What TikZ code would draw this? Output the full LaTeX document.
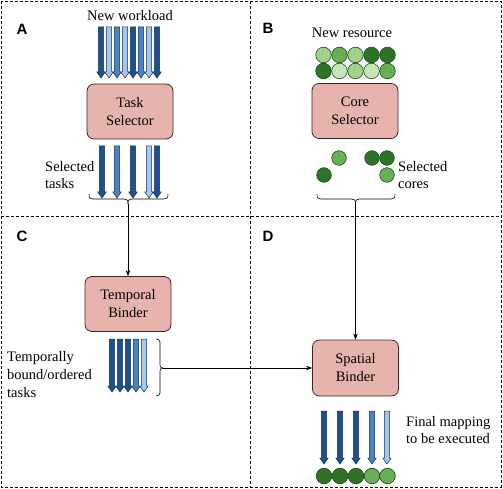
\documentclass[tikz,border=0pt]{standalone}
\usepackage{fontspec}
\setmainfont{Liberation Serif}
\newfontfamily\labfont{Liberation Sans}
\usetikzlibrary{arrows.meta}
\definecolor{boxfill}{RGB}{230,180,172}
\definecolor{boxedge}{RGB}{70,35,35}
\definecolor{bdark}{RGB}{30,82,140}
\definecolor{bmed}{RGB}{72,132,192}
\definecolor{blight}{RGB}{165,200,235}
\definecolor{arredge}{RGB}{20,45,90}
\definecolor{gdark}{RGB}{45,115,40}
\definecolor{gmed}{RGB}{105,175,85}
\definecolor{glight}{RGB}{160,210,140}
\definecolor{glighter}{RGB}{195,230,180}
\definecolor{coreedge}{RGB}{25,70,25}
\tikzset{
  box/.style={draw=boxedge, fill=boxfill, rounded corners=7pt, minimum width=86pt, minimum height=55pt, inner sep=0pt, align=center, font=\fontsize{14.5}{18}\selectfont, line width=0.8pt},
  lbl/.style={font=\fontsize{14.5}{17}\selectfont, align=left, inner sep=0pt},
  panel/.style={font=\labfont\bfseries\fontsize{15}{15}\selectfont, inner sep=0pt},
  dashline/.style={dash pattern=on 3pt off 2pt, line width=0.6pt},
  coresty/.style={draw=coreedge, line width=0.6pt},
  conn/.style={-{Stealth[length=6pt,width=4.5pt]}, line width=0.6pt},
  brace/.style={line width=0.6pt},
}
\newcommand\tarrow[4]{\draw[fill=#4, draw=arredge, line width=0.5pt, line join=miter] (#1-2.6,#2) -- (#1+2.6,#2) -- (#1+2.6,#3-6) -- (#1+4.2,#3-6) -- (#1,#3) -- (#1-4.2,#3-6) -- (#1-2.6,#3-6) -- cycle;}
\newcommand\corec[4]{\draw[coresty, fill=#4] (#1,#2) circle (#3pt);}
\begin{document}
\begin{tikzpicture}[x=1pt,y=-1pt]
\useasboundingbox (0,0) rectangle (503,489);
% panels
\draw[dashline] (1,1) rectangle (501,487);
\draw[dashline] (250,1) -- (250,487);
\draw[dashline] (1,216) -- (501,216);
\node[panel] (pA) at (22,29) {A};
\node[panel] (pB) at (268,28) {B};
\node[panel] (pC) at (22,236) {C};
\node[panel] (pD) at (268,236) {D};
% Panel A
\node[lbl] (nw) at (130,16) {New workload};
\tarrow{101}{27}{78}{bdark}
\tarrow{109}{27}{78}{blight}
\tarrow{117}{27}{78}{bmed}
\tarrow{125}{27}{78}{blight}
\tarrow{133}{27}{78}{bdark}
\tarrow{141}{27}{78}{bmed}
\tarrow{149}{27}{78}{blight}
\tarrow{157}{27}{78}{bdark}
\node[box] (ts) at (130,111.5) {Task\\Selector};
\tarrow{102}{146}{198}{bdark}
\tarrow{117}{146}{198}{bmed}
\tarrow{133}{146}{198}{bdark}
\tarrow{149}{146}{198}{blight}
\tarrow{157}{146}{198}{bdark}
\node[lbl, anchor=west] (st) at (45,175) {Selected\\tasks};
\coordinate (ba) at (128,204);
\draw[brace] (89,194) .. controls (89,198) and (90,199) .. (93,199) -- (124,199) .. controls (127,199) and (128,200) .. (ba);
\draw[brace] (168,194) .. controls (168,198) and (167,199) .. (164,199) -- (132,199) .. controls (129,199) and (128,200) .. (ba);
% Panel B
\node[lbl] (nr) at (352,33) {New resource};
\corec{323.5}{55}{7.8}{glight}
\corec{339.5}{55}{7.8}{gmed}
\corec{355.5}{55}{7.8}{glight}
\corec{371.5}{55}{7.8}{gdark}
\corec{387.5}{55}{7.8}{gdark}
\corec{323.5}{71}{7.8}{gdark}
\corec{339.5}{71}{7.8}{glighter}
\corec{355.5}{71}{7.8}{glight}
\corec{371.5}{71}{7.8}{glighter}
\corec{387.5}{71}{7.8}{gmed}
\node[box] (cs) at (355,111) {Core\\Selector};
\corec{339}{158}{7.3}{gmed}
\corec{324}{175}{7.3}{gdark}
\corec{372}{158}{7.3}{gdark}
\corec{387}{158}{7.3}{gdark}
\corec{387}{175}{7.3}{gmed}
\node[lbl, anchor=west] (sc) at (398,175) {Selected\\cores};
\coordinate (bb) at (355.5,204);
\draw[brace] (317,194) .. controls (317,198) and (318,199) .. (321,199) -- (351.5,199) .. controls (354.5,199) and (355.5,200) .. (bb);
\draw[brace] (395,194) .. controls (395,198) and (394,199) .. (391,199) -- (359.5,199) .. controls (356.5,199) and (355.5,200) .. (bb);
% Panel C
\node[box] (tb) at (128,304) {Temporal\\Binder};
\draw[conn] (ba) -- (tb.north);
\tarrow{112}{339}{392}{bdark}
\tarrow{120}{339}{392}{bdark}
\tarrow{128}{339}{392}{bdark}
\tarrow{136}{339}{392}{bmed}
\tarrow{144}{339}{392}{blight}
\node[lbl, anchor=west, font=\fontsize{14.5}{18}\selectfont] (tt) at (7,375) {Temporally\\bound/ordered\\tasks};
\coordinate (bc) at (163,368);
\draw[brace] (156,339) .. controls (158,339) and (160,340) .. (160,342) -- (160,365) .. controls (160,367) and (161,368) .. (bc);
\draw[brace] (156,396) .. controls (158,396) and (160,395) .. (160,393) -- (160,371) .. controls (160,369) and (161,368) .. (bc);
% Panel D
\node[box, minimum height=56pt] (sb) at (355.5,368) {Spatial\\Binder};
\draw[conn] (bb) -- (sb.north);
\draw[conn] (bc) -- (sb.west);
\tarrow{324}{411}{464}{bdark}
\tarrow{340}{411}{464}{bdark}
\tarrow{356}{411}{464}{bdark}
\tarrow{372}{411}{464}{bmed}
\tarrow{387}{411}{464}{blight}
\corec{324}{476}{7.8}{gdark}
\corec{340}{476}{7.8}{gdark}
\corec{356}{476}{7.8}{gdark}
\corec{372}{476}{7.8}{gmed}
\corec{387.5}{476}{7.8}{gmed}
\node[lbl, anchor=west, font=\fontsize{14.5}{16.5}\selectfont] (fm) at (406,430) {Final mapping\\to be executed};
\end{tikzpicture}
\end{document}
